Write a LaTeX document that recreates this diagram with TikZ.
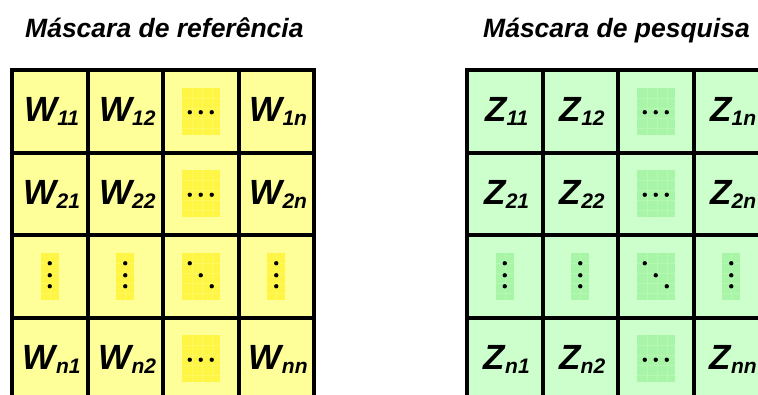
\documentclass[tikz,border=0pt]{standalone}
\usepackage{fontspec}
\setmainfont{Liberation Sans}
\begin{document}
\begin{tikzpicture}[x=1pt,y=-1pt,
  cellbox/.style={minimum width=75.5pt,minimum height=82.5pt,inner sep=0pt,outer sep=0pt},
  gridline/.style={line width=4pt,black},
  hilite/.style={inner sep=0pt,outer sep=0pt,minimum height=47pt},
  titletext/.style={anchor=base west,inner sep=0pt,font=\fontsize{26.5}{30}\selectfont\bfseries\itshape},
  labeltext/.style={font=\fontsize{35}{40}\selectfont\bfseries\itshape}]
\definecolor{ycell}{HTML}{FFFF99}
\definecolor{yhi}{HTML}{FFF545}
\definecolor{yhigrid}{HTML}{FFF85E}
\definecolor{gcell}{HTML}{CCFFCC}
\definecolor{ghi}{HTML}{A8F5A8}
\definecolor{ghigrid}{HTML}{B4F8B4}
\path[use as bounding box] (0,0) rectangle (758,394);
\clip (0,0) rectangle (758,394);
\fill[white] (0,0) rectangle (758,394);

\node[titletext] (t1) at (25,37.7) {Máscara de referência};
\node[titletext] (t2) at (483,37.7) {Máscara de pesquisa};

\newcommand{\lbl}[2]{#1\raisebox{-4pt}{\fontsize{21}{24}\selectfont #2}}

\foreach \p/\xo/\cc/\hc/\hg/\L in {w/12/ycell/yhi/yhigrid/W, z/467/gcell/ghi/ghigrid/Z}{
  \foreach \r in {1,...,4}{
    \foreach \c in {1,...,4}{
      \node[cellbox,fill=\cc] (\p\r\c) at ({\xo+75.5*(\c-0.5)},{70+82.5*(\r-0.5)}) {};
    }
  }
  \foreach \r in {1,...,4}{
    \foreach \c in {1,...,4}{
      \draw[gridline] (\p\r\c.north west) rectangle (\p\r\c.south east);
    }
  }
  % labels
  \foreach \r/\rs in {1/1,2/2,4/n}{
    \foreach \c/\cs in {1/1,2/2,4/n}{
      \node[labeltext] (\p l\r\c) at ([xshift=2pt,yshift=-0.5pt]\p\r\c.center) {\lbl{\L}{\rs\cs}};
    }
  }
  % horizontal dots
  \foreach \r in {1,2,4}{
    \node[hilite,minimum width=38pt,fill=\hc] (\p h\r) at (\p\r3.center) {};
    \draw[\hg,line width=0.5pt] (\p h\r.north west) ++(10,0) -- ++(0,47) ++(10,-47) -- ++(0,47) ++(10,-47) -- ++(0,47);
    \draw[\hg,line width=0.5pt] (\p h\r.north west) ++(0,10) -- ++(38,0) ++(-38,10) -- ++(38,0) ++(-38,10) -- ++(38,0) ++(-38,10) -- ++(38,0);
    \foreach \dx in {-11,0,11}{
      \fill[black] ([xshift=\dx pt,yshift=-1pt]\p h\r.center) circle (2.2pt);
    }
  }
  % vertical dots
  \foreach \c in {1,2,4}{
    \node[hilite,minimum width=18pt,fill=\hc] (\p v\c) at (\p3\c.center) {};
    \draw[\hg,line width=0.5pt] (\p v\c.north west) ++(9,0) -- ++(0,47);
    \draw[\hg,line width=0.5pt] (\p v\c.north west) ++(0,10) -- ++(18,0) ++(-18,10) -- ++(18,0) ++(-18,10) -- ++(18,0) ++(-18,10) -- ++(18,0);
    \foreach \dy in {-13,-1,10}{
      \fill[black] ([yshift=-\dy pt]\p v\c.center) circle (2.2pt);
    }
  }
  % diagonal dots
  \node[hilite,minimum width=38pt,fill=\hc] (\p d) at (\p33.center) {};
  \draw[\hg,line width=0.5pt] (\p d.north west) ++(10,0) -- ++(0,47) ++(10,-47) -- ++(0,47) ++(10,-47) -- ++(0,47);
  \draw[\hg,line width=0.5pt] (\p d.north west) ++(0,10) -- ++(38,0) ++(-38,10) -- ++(38,0) ++(-38,10) -- ++(38,0) ++(-38,10) -- ++(38,0);
  \foreach \dx/\dy in {-11/-13,0/-1,11/10}{
    \fill[black] ([xshift=\dx pt,yshift=-\dy pt]\p d.center) circle (2.2pt);
  }
}
\end{tikzpicture}
\end{document}
